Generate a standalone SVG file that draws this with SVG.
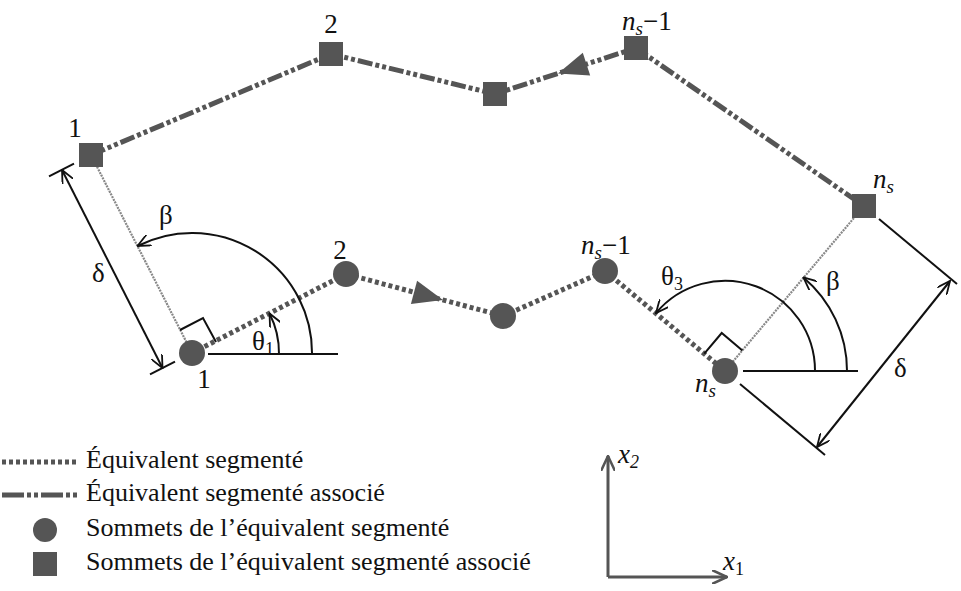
<svg xmlns="http://www.w3.org/2000/svg" width="961" height="591" viewBox="0 0 961 591">
<style>
text{font-family:"Liberation Serif","Times New Roman",serif;fill:#111;}
.lbl{font-size:27px;}
.leg{font-size:26px;}
.it{font-style:italic;}
.seg{fill:none;stroke:#555;stroke-width:5;stroke-dasharray:4 3;}
.assoc{fill:none;stroke:#555;stroke-width:5;stroke-dasharray:15 3 4 3 4 3;}
.perp{fill:none;stroke:#888;stroke-width:2.2;stroke-dasharray:2 1;}
.thin{fill:none;stroke:#111;stroke-width:2;}
.axis{fill:none;stroke:#555;stroke-width:3;}
.node{fill:#555;}
.tri{fill:#555;}
</style>
<defs>
<marker id="open" viewBox="0 0 14 12" refX="13" refY="6" markerWidth="14" markerHeight="12" markerUnits="userSpaceOnUse" orient="auto-start-reverse">
<path d="M0,0 L13,6 L0,12" fill="none" stroke="#111" stroke-width="1.8"/>
</marker>
<marker id="openAx" viewBox="0 0 16 14" refX="15" refY="7" markerWidth="16" markerHeight="14" markerUnits="userSpaceOnUse" orient="auto">
<path d="M0,0 L15,7 L0,14" fill="none" stroke="#555" stroke-width="2.5"/>
</marker>
</defs>

<g id="connectors">
<!-- associated segmented equivalent (squares) -->
<polyline class="assoc" points="91,155 331,54 495,94 636,48 864,206"/>
<polygon class="tri" points="558,73.5 582.8,52.8 590.2,75.6"/>
<!-- segmented equivalent (circles) -->
<polyline class="seg" points="192,353 346,274 503,316 605,271 725,371"/>
<polygon class="tri" points="443,300 410.9,303.9 417.1,280.7"/>
<!-- perpendicular offsets -->
<line class="perp" x1="192" y1="353" x2="91" y2="155"/>
<line class="perp" x1="725" y1="371" x2="864" y2="206"/>
<!-- left construction -->
<line class="thin" x1="208" y1="354" x2="338" y2="354"/>
<polyline class="thin" points="180,330 203,318 216,342"/>
<path class="thin" d="M312,354 A120,120 0 0 0 137.5,246" marker-end="url(#open)"/>
<path class="thin" d="M279,354 A87,87 0 0 0 269.5,313.5" marker-end="url(#open)"/>
<line class="thin" x1="49" y1="176.4" x2="74" y2="163.6"/>
<line class="thin" x1="150" y1="374.4" x2="175" y2="361.6"/>
<line class="thin" x1="62" y1="170" x2="162.5" y2="368" marker-start="url(#open)" marker-end="url(#open)"/>
<!-- right construction -->
<line class="thin" x1="743" y1="371" x2="858" y2="371"/>
<polyline class="thin" points="704.3,353.7 721.7,333 742.4,350.4"/>
<path class="thin" d="M815,371 A90,90 0 0 0 656,313" marker-end="url(#open)"/>
<path class="thin" d="M847,371 A122,122 0 0 0 803.4,277.5" marker-end="url(#open)"/>
<line class="thin" x1="740" y1="384" x2="825" y2="455"/>
<line class="thin" x1="879" y1="219" x2="957" y2="284"/>
<line class="thin" x1="950" y1="281" x2="817" y2="447" marker-start="url(#open)" marker-end="url(#open)"/>
<!-- axes -->
<line class="axis" x1="608" y1="577" x2="608" y2="456" marker-end="url(#openAx)"/>
<line class="axis" x1="608" y1="577" x2="727" y2="577" marker-end="url(#openAx)"/>
<!-- legend samples -->
<line class="seg" x1="2" y1="462" x2="77" y2="462"/>
<line class="assoc" x1="2" y1="495" x2="77" y2="495" style="stroke-dasharray:22 3 4 3 4 3"/>
</g>

<g id="circle-1"><circle class="node" cx="192" cy="353" r="13"/><text class="lbl" x="204" y="388" text-anchor="middle">1</text></g>
<g id="circle-2"><circle class="node" cx="346" cy="274" r="13"/><text class="lbl" x="340" y="259" text-anchor="middle">2</text></g>
<g id="circle-3"><circle class="node" cx="503" cy="316" r="13"/></g>
<g id="circle-ns-1"><circle class="node" cx="605" cy="271" r="13"/><text class="lbl" x="581" y="254"><tspan class="it">n</tspan><tspan class="it" font-size="19" dy="5">s</tspan><tspan dy="-5">−1</tspan></text></g>
<g id="circle-ns"><circle class="node" cx="725" cy="371" r="13"/><text class="lbl" x="695" y="392"><tspan class="it">n</tspan><tspan class="it" font-size="19" dy="5">s</tspan></text></g>

<g id="square-1"><rect class="node" x="79" y="143" width="24" height="24"/><text class="lbl" x="75" y="137" text-anchor="middle">1</text></g>
<g id="square-2"><rect class="node" x="319" y="42" width="24" height="24"/><text class="lbl" x="331" y="33" text-anchor="middle">2</text></g>
<g id="square-3"><rect class="node" x="483" y="82" width="24" height="24"/></g>
<g id="square-ns-1"><rect class="node" x="624" y="36" width="24" height="24"/><text class="lbl" x="622" y="30"><tspan class="it">n</tspan><tspan class="it" font-size="19" dy="5">s</tspan><tspan dy="-5">−1</tspan></text></g>
<g id="square-ns"><rect class="node" x="852" y="194" width="24" height="24"/><text class="lbl" x="873" y="188"><tspan class="it">n</tspan><tspan class="it" font-size="19" dy="5">s</tspan></text></g>

<g id="angle-labels">
<text class="lbl" x="159" y="224">β</text>
<text class="lbl" x="92" y="282">δ</text>
<text class="lbl" x="252" y="350">θ<tspan font-size="18" dy="5">1</tspan></text>
<text class="lbl" x="661" y="285">θ<tspan font-size="18" dy="5">3</tspan></text>
<text class="lbl" x="826" y="290">β</text>
<text class="lbl" x="894" y="377">δ</text>
<text class="lbl it" x="618" y="463">x<tspan class="it" font-size="18" dy="5" font-style="normal">2</tspan></text>
<text class="lbl it" x="723" y="570">x<tspan font-size="18" dy="5" font-style="normal">1</tspan></text>
</g>

<g id="legend">
<text class="leg" x="86" y="468">Équivalent segmenté</text>
<text class="leg" x="86" y="501">Équivalent segmenté associé</text>
<circle class="node" cx="45" cy="530" r="12"/>
<text class="leg" x="86" y="536">Sommets de l’équivalent segmenté</text>
<rect class="node" x="33" y="552" width="24" height="24"/>
<text class="leg" x="86" y="570">Sommets de l’équivalent segmenté associé</text>
</g>
</svg>
